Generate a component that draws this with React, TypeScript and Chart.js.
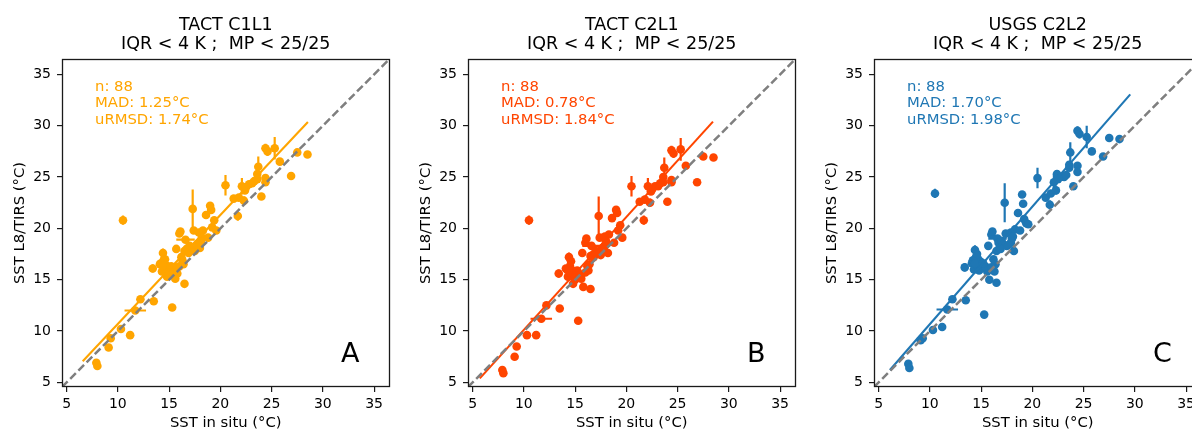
import React, { useEffect, useRef } from "react";
import { Chart, registerables } from "chart.js";

Chart.register(...registerables);

const FONT = "'DejaVu Sans', 'Liberation Sans', sans-serif";

// In situ SST (shared by the three panels)
const xInSitu = [
  7.9, 8.0, 9.1, 9.3, 10.3, 10.5, 11.2, 11.7, 12.2, 13.5,
  13.4, 14.1, 14.4, 14.5, 14.3, 14.6, 14.8, 14.9, 15.1, 15.6,
  15.6, 15.3, 15.7, 16.0, 16.1, 16.2, 16.3, 16.4, 16.5, 16.6,
  16.5, 16.7, 16.9, 17.1, 17.3, 17.4, 17.5, 17.9, 17.9, 18.0,
  18.2, 18.3, 18.6, 18.8, 19.0, 19.1, 19.2, 19.4, 19.6, 20.5,
  21.3, 21.7, 21.8, 22.1, 22.3, 22.4, 22.8, 23.1, 23.6, 23.6,
  23.7, 24.0, 24.4, 24.4, 24.4, 24.6, 25.3, 25.8, 26.9, 27.5,
  28.5, 14.2, 14.7, 15.0, 14.9, 15.4, 15.8, 14.5, 16.0, 16.8,
  17.0, 14.4, 17.7, 18.1, 14.6, 15.2, 22.5, 23.3,
];

const yTactC1L1 = [
  6.9, 6.6, 8.4, 9.3, 10.2, 20.8, 9.6, 12.0, 13.1, 12.9,
  16.1, 16.5, 17.6, 17.0, 15.8, 15.7, 15.3, 16.2, 15.9, 16.2,
  15.1, 12.3, 18.0, 19.5, 19.7, 17.2, 16.9, 16.5, 14.6, 18.9,
  17.8, 18.0, 17.6, 18.0, 21.9, 19.8, 17.8, 19.6, 18.6, 18.1,
  19.1, 19.8, 21.3, 19.1, 22.2, 21.8, 20.1, 20.8, 19.8, 24.2,
  22.9, 21.2, 23.0, 24.1, 22.7, 23.7, 24.3, 24.4, 25.3, 24.8,
  26.0, 23.1, 24.9, 24.5, 27.8, 27.5, 27.8, 26.5, 25.1, 27.4,
  27.2, 16.6, 16.4, 15.6, 15.5, 16.0, 15.6, 16.2, 16.3, 17.9,
  18.3, 16.4, 18.4, 18.7, 17.0, 16.3, 24.0, 24.6,
];

const yTactC2L1 = [
  6.2, 5.9, 7.5, 8.5, 9.6, 20.8, 9.6, 11.2, 12.5, 12.2,
  15.6, 16.1, 17.2, 16.3, 15.3, 15.6, 14.6, 15.8, 15.4, 15.5,
  15.1, 11.0, 17.6, 18.6, 19.0, 16.3, 15.9, 16.5, 14.1, 18.3,
  17.3, 17.4, 17.4, 17.6, 21.2, 19.1, 17.4, 19.2, 18.3, 18.8,
  17.6, 19.4, 21.0, 18.6, 21.8, 21.5, 19.8, 20.3, 19.1, 24.1,
  22.6, 20.8, 22.8, 24.1, 22.5, 23.6, 24.1, 24.1, 25.0, 24.5,
  25.9, 22.6, 24.7, 24.5, 27.6, 27.3, 27.7, 26.1, 24.5, 27.0,
  26.9, 16.0, 15.9, 15.0, 15.2, 15.5, 14.3, 15.7, 15.7, 17.2,
  17.8, 15.9, 18.1, 18.5, 16.8, 15.9, 23.8, 24.4,
];

const yUsgsC2L2 = [
  6.8, 6.4, 9.1, 9.3, 10.1, 23.4, 10.4, 12.1, 13.1, 13.0,
  16.2, 16.6, 17.9, 17.2, 16.0, 16.4, 15.9, 16.8, 16.5, 16.0,
  15.8, 11.6, 18.3, 19.4, 19.7, 17.0, 15.8, 16.5, 14.7, 19.0,
  17.8, 18.6, 18.0, 18.5, 22.5, 19.5, 18.3, 19.6, 18.6, 19.0,
  17.8, 19.9, 21.5, 19.8, 23.3, 22.4, 20.9, 20.5, 20.4, 24.9,
  23.0, 22.3, 23.4, 24.5, 23.7, 25.3, 25.0, 25.0, 25.9, 26.2,
  27.4, 24.1, 26.1, 25.5, 29.5, 29.2, 28.9, 27.5, 27.0, 28.8,
  28.7, 16.9, 17.0, 16.1, 16.6, 16.3, 15.0, 16.8, 16.2, 18.1,
  18.8, 16.6, 18.4, 19.2, 17.5, 16.6, 24.8, 25.2,
];

// Error bars (half widths, °C)
const xErr = [
  0.2, 0.2, 0.2, 0.2, 0.2, 0.2, 0.2, 1.05, 0.2, 0.2,
  0.35, 0.2, 0.2, 0.2, 0.2, 0.2, 0.2, 0.2, 0.2, 0.2,
  0.2, 0.2, 0.2, 0.2, 0.2, 0.2, 0.2, 0.2, 0.2, 0.9,
  0.2, 0.2, 0.2, 0.2, 0.2, 0.2, 0.2, 0.2, 0.2, 0.2,
  0.2, 0.2, 0.2, 0.2, 0.2, 0.2, 0.2, 0.2, 0.2, 0.2,
  0.2, 0.2, 0.2, 0.2, 0.2, 0.2, 0.2, 0.2, 0.2, 0.2,
  0.2, 0.2, 0.2, 0.2, 0.2, 0.2, 0.2, 0.2, 0.2, 0.2,
  0.2, 0.2, 0.2, 0.2, 0.2, 0.2, 0.2, 0.2, 0.2, 0.2,
  0.2, 0.2, 0.2, 0.2, 0.2, 0.2, 0.2, 0.2,
];

const yErr = [
  0.25, 0.25, 0.25, 0.25, 0.25, 0.45, 0.25, 0.25, 0.25, 0.25,
  0.4, 0.25, 0.45, 0.25, 0.25, 0.25, 0.25, 0.25, 0.25, 0.25,
  0.25, 0.25, 0.25, 0.3, 0.25, 0.25, 0.25, 0.25, 0.25, 0.25,
  0.25, 0.25, 0.25, 0.25, 1.9, 0.25, 0.25, 0.25, 0.25, 0.25,
  0.25, 0.25, 0.25, 0.25, 0.25, 0.25, 0.25, 0.25, 0.25, 1.0,
  0.25, 0.45, 0.25, 0.8, 0.4, 0.25, 0.25, 0.25, 0.25, 0.25,
  1.0, 0.25, 0.25, 0.25, 0.45, 0.45, 1.1, 0.25, 0.25, 0.25,
  0.25, 0.25, 0.25, 0.25, 0.25, 0.25, 0.25, 0.25, 0.25, 0.25,
  0.25, 0.25, 0.25, 0.25, 0.25, 0.25, 0.25, 0.25,
];

// Regression line end points
const fitXA = [6.57, 28.54];
const fitYA = [7.05, 30.36];
const fitXB = [5.7, 28.45];
const fitYB = [5.39, 30.4];
const fitXC = [6.1, 29.55];
const fitYC = [6.2, 33.05];

// 1:1 line and axes
const axisRange = [4.55, 36.5];
const tickValues = [5, 10, 15, 20, 25, 30, 35];

const panelTitles = ["TACT C1L1", "TACT C2L1", "USGS C2L2"];
const subTitle = "IQR < 4 K ;  MP < 25/25";
const panelLetters = ["A", "B", "C"];
const statsN = ["n: 88", "n: 88", "n: 88"];
const statsMAD = ["MAD: 1.25°C", "MAD: 0.78°C", "MAD: 1.70°C"];
const statsURMSD = ["uRMSD: 1.74°C", "uRMSD: 1.84°C", "uRMSD: 1.98°C"];
const panelColors = ["#FFA500", "#FF4500", "#1F77B4"];
const yLabel = "SST L8/TIRS (°C)";
const xLabel = "SST in situ (°C)";

const panelY = [yTactC1L1, yTactC2L1, yUsgsC2L2];
const panelFitX = [fitXA, fitXB, fitXC];
const panelFitY = [fitYA, fitYB, fitYC];

const W = 406;
const H = 431;

function Panel({ idx, left }: { idx: number; left: number }) {
  const ref = useRef<HTMLCanvasElement>(null);

  useEffect(() => {
    const canvas = ref.current!;
    const color = panelColors[idx];
    const ys = panelY[idx];
    const pts = xInSitu.map((x, i) => ({ x, y: ys[i] }));
    const fit = panelFitX[idx].map((x, i) => ({ x, y: panelFitY[idx][i] }));
    const one = axisRange.map((v) => ({ x: v, y: v }));

    const decor = {
      id: "decor",
      beforeDatasetsDraw(chart: any) {
        const { ctx, chartArea, scales } = chart;
        const sx = scales.x;
        const sy = scales.y;
        ctx.save();
        ctx.beginPath();
        ctx.rect(chartArea.left, chartArea.top, chartArea.right - chartArea.left, chartArea.bottom - chartArea.top);
        ctx.clip();
        ctx.strokeStyle = color;
        ctx.lineWidth = 2.2;
        ctx.lineCap = "butt";
        for (let i = 0; i < xInSitu.length; i++) {
          const x = xInSitu[i];
          const y = ys[i];
          ctx.beginPath();
          ctx.moveTo(sx.getPixelForValue(x), sy.getPixelForValue(y - yErr[i]));
          ctx.lineTo(sx.getPixelForValue(x), sy.getPixelForValue(y + yErr[i]));
          ctx.moveTo(sx.getPixelForValue(x - xErr[i]), sy.getPixelForValue(y));
          ctx.lineTo(sx.getPixelForValue(x + xErr[i]), sy.getPixelForValue(y));
          ctx.stroke();
        }
        ctx.restore();
      },
      afterDraw(chart: any) {
        const { ctx, chartArea } = chart;
        const cx = (chartArea.left + chartArea.right) / 2;
        const cy = (chartArea.top + chartArea.bottom) / 2;
        ctx.save();
        // spines
        ctx.strokeStyle = "#1a1a1a";
        ctx.lineWidth = 1.3;
        ctx.strokeRect(
          Math.round(chartArea.left) + 0.5,
          Math.round(chartArea.top) + 0.5,
          Math.round(chartArea.right - chartArea.left) - 1,
          Math.round(chartArea.bottom - chartArea.top) - 1
        );
        // titles
        ctx.fillStyle = "#000";
        ctx.textAlign = "center";
        ctx.textBaseline = "alphabetic";
        ctx.font = `17.5px ${FONT}`;
        ctx.fillText(panelTitles[idx], cx, 30);
        ctx.fillText(subTitle, cx, 49);
        // axis labels
        ctx.font = `14.8px ${FONT}`;
        ctx.fillText(xLabel, cx, 427);
        ctx.save();
        ctx.translate(23.5, cy);
        ctx.rotate(-Math.PI / 2);
        ctx.fillText(yLabel, 0, 0);
        ctx.restore();
        // stats
        ctx.fillStyle = color;
        ctx.textAlign = "left";
        ctx.font = `14.8px ${FONT}`;
        ctx.fillText(statsN[idx], 95, 90.5);
        ctx.fillText(statsMAD[idx], 95, 107.3);
        ctx.fillText(statsURMSD[idx], 95, 124);
        // letter
        ctx.fillStyle = "#000";
        ctx.font = `27px ${FONT}`;
        ctx.fillText(panelLetters[idx], 341, 361.5);
        ctx.restore();
      },
    };

    const axisCommon = {
      type: "linear" as const,
      min: axisRange[0],
      max: axisRange[1],
      afterBuildTicks: (scale: any) => {
        scale.ticks = tickValues.map((v) => ({ value: v }));
      },
      grid: {
        display: true,
        drawOnChartArea: false,
        drawTicks: true,
        tickLength: 5,
        color: "#1a1a1a",
        lineWidth: 1.2,
      },
      border: { display: false },
    };

    const chart = new Chart(canvas, {
      type: "scatter",
      data: {
        datasets: [
          {
            data: one,
            showLine: true,
            borderColor: "#7f7f7f",
            borderWidth: 2.5,
            borderDash: [8, 3.6],
            pointRadius: 0,
            order: 0,
          } as any,
          {
            data: fit,
            showLine: true,
            borderColor: color,
            borderWidth: 2.1,
            pointRadius: 0,
            order: 1,
          },
          {
            data: pts,
            backgroundColor: color,
            borderColor: color,
            borderWidth: 0,
            pointRadius: 4.3,
            pointHoverRadius: 4.3,
            order: 2,
          },
        ],
      },
      options: {
        responsive: false,
        animation: false,
        events: [],
        layout: { padding: { left: 0, top: 59, right: 16.5, bottom: 0 } },
        plugins: {
          legend: { display: false },
          tooltip: { enabled: false },
          title: { display: false },
        },
        scales: {
          x: {
            ...axisCommon,
            position: "bottom",
            afterFit: (scale: any) => {
              scale.height = 44;
            },
            ticks: {
              autoSkip: false,
              maxRotation: 0,
              padding: 4,
              color: "#000",
              font: { family: FONT, size: 14 },
              callback: (v: any) => String(v),
            },
          },
          y: {
            ...axisCommon,
            position: "left",
            afterFit: (scale: any) => {
              scale.width = 62;
            },
            ticks: {
              autoSkip: false,
              padding: 6,
              color: "#000",
              font: { family: FONT, size: 14 },
              callback: (v: any) => String(v),
            },
          },
        },
      } as any,
      plugins: [decor],
    });
    return () => chart.destroy();
  }, [idx]);

  return (
    <canvas
      ref={ref}
      width={W}
      height={H}
      style={{ position: "absolute", left, top: 0, width: W, height: H, display: "block" }}
    />
  );
}

export default function App() {
  return (
    <div
      style={{
        position: "fixed",
        left: 0,
        top: 0,
        width: 1192,
        height: 431,
        overflow: "hidden",
        background: "#fff",
      }}
    >
      <Panel idx={0} left={0} />
      <Panel idx={1} left={406} />
      <Panel idx={2} left={812} />
    </div>
  );
}
